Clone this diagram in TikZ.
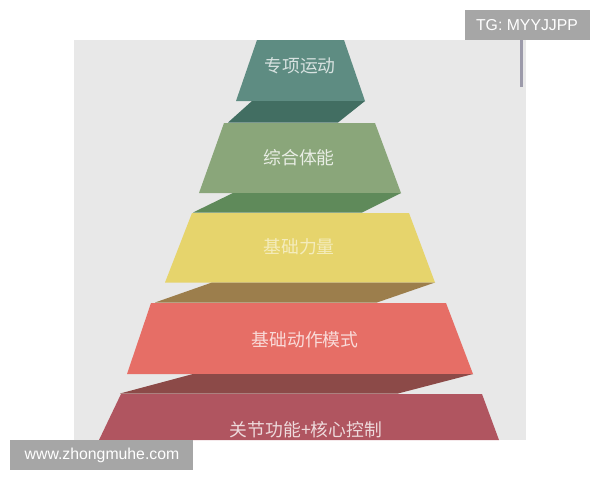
\documentclass[tikz,border=0pt]{standalone}
\usepackage{fontspec}
\newfontfamily\cjk{Noto Sans CJK SC}
\setsansfont{Liberation Sans}
\definecolor{bggray}{HTML}{E8E8E8}
\definecolor{tagbox}{HTML}{A6A6A6}
\definecolor{scroll}{HTML}{9C9AAA}
\definecolor{tealF}{HTML}{5E8C82}
\definecolor{tealB}{HTML}{426E62}
\definecolor{greenF}{HTML}{8AA67A}
\definecolor{greenB}{HTML}{5F8A5A}
\definecolor{yelF}{HTML}{E6D46C}
\definecolor{yelB}{HTML}{9C7E4C}
\definecolor{redF}{HTML}{E66E66}
\definecolor{redB}{HTML}{8C4A48}
\definecolor{marF}{HTML}{B05560}
\tikzset{
  lbl/.style={font=\cjk\fontsize{17.8pt}{20pt}\selectfont, inner sep=0pt},
  tag/.style={font=\sffamily\fontsize{15.8pt}{18pt}\selectfont, text=white, inner sep=0pt},
}
\begin{document}
\begin{tikzpicture}[x=1pt,y=-1pt]
\useasboundingbox (0,0) rectangle (600,480);
\fill[white] (0,0) rectangle (600,480);
\fill[bggray] (74,40) rectangle (526,440);
% scrollbar
\fill[scroll] (520,40) rectangle (522.5,87);
% tier 1
\fill[tealF] (257,40) -- (344,40) -- (365,101) -- (236,101) -- cycle;
\fill[tealB] (252,101) -- (365,101) -- (338,122.5) -- (228,122.5) -- cycle;
% tier 2
\fill[greenF] (224,123) -- (375,123) -- (401,193) -- (199,193) -- cycle;
\fill[greenB] (233,193) -- (401,193) -- (362,212.5) -- (193,212.5) -- cycle;
% tier 3
\fill[yelF] (192,213) -- (409,213) -- (435,282.5) -- (165,282.5) -- cycle;
\fill[yelB] (212,282.5) -- (435,282.5) -- (377,302.5) -- (155,302.5) -- cycle;
% tier 4
\fill[redF] (151,303) -- (446,303) -- (473,374) -- (127,374) -- cycle;
\fill[redB] (193,374) -- (473,374) -- (398,393.5) -- (120,393.5) -- cycle;
% tier 5
\fill[marF] (121,394) -- (482,394) -- (499,440) -- (99,440) -- cycle;
% labels
\node[lbl, text=tealF!25!white] (t1) at (300,66) {专项运动};
\node[lbl, text=greenF!20!white] (t2) at (299,158) {综合体能};
\node[lbl, text=yelF!45!white] (t3) at (299,247) {基础力量};
\node[lbl, text=redF!25!white] (t4) at (305,340) {基础动作模式};
\node[lbl, text=marF!22!white] (t5) at (306,430) {关节功能+核心控制};
% watermark boxes
\fill[tagbox] (465,10) rectangle (590,39.5);
\node[tag] (tg) at (527,25) {TG: MYYJJPP};
\fill[tagbox] (10,440) rectangle (193,470);
\node[tag] (www) at (102,455) {www.zhongmuhe.com};
\end{tikzpicture}
\end{document}
